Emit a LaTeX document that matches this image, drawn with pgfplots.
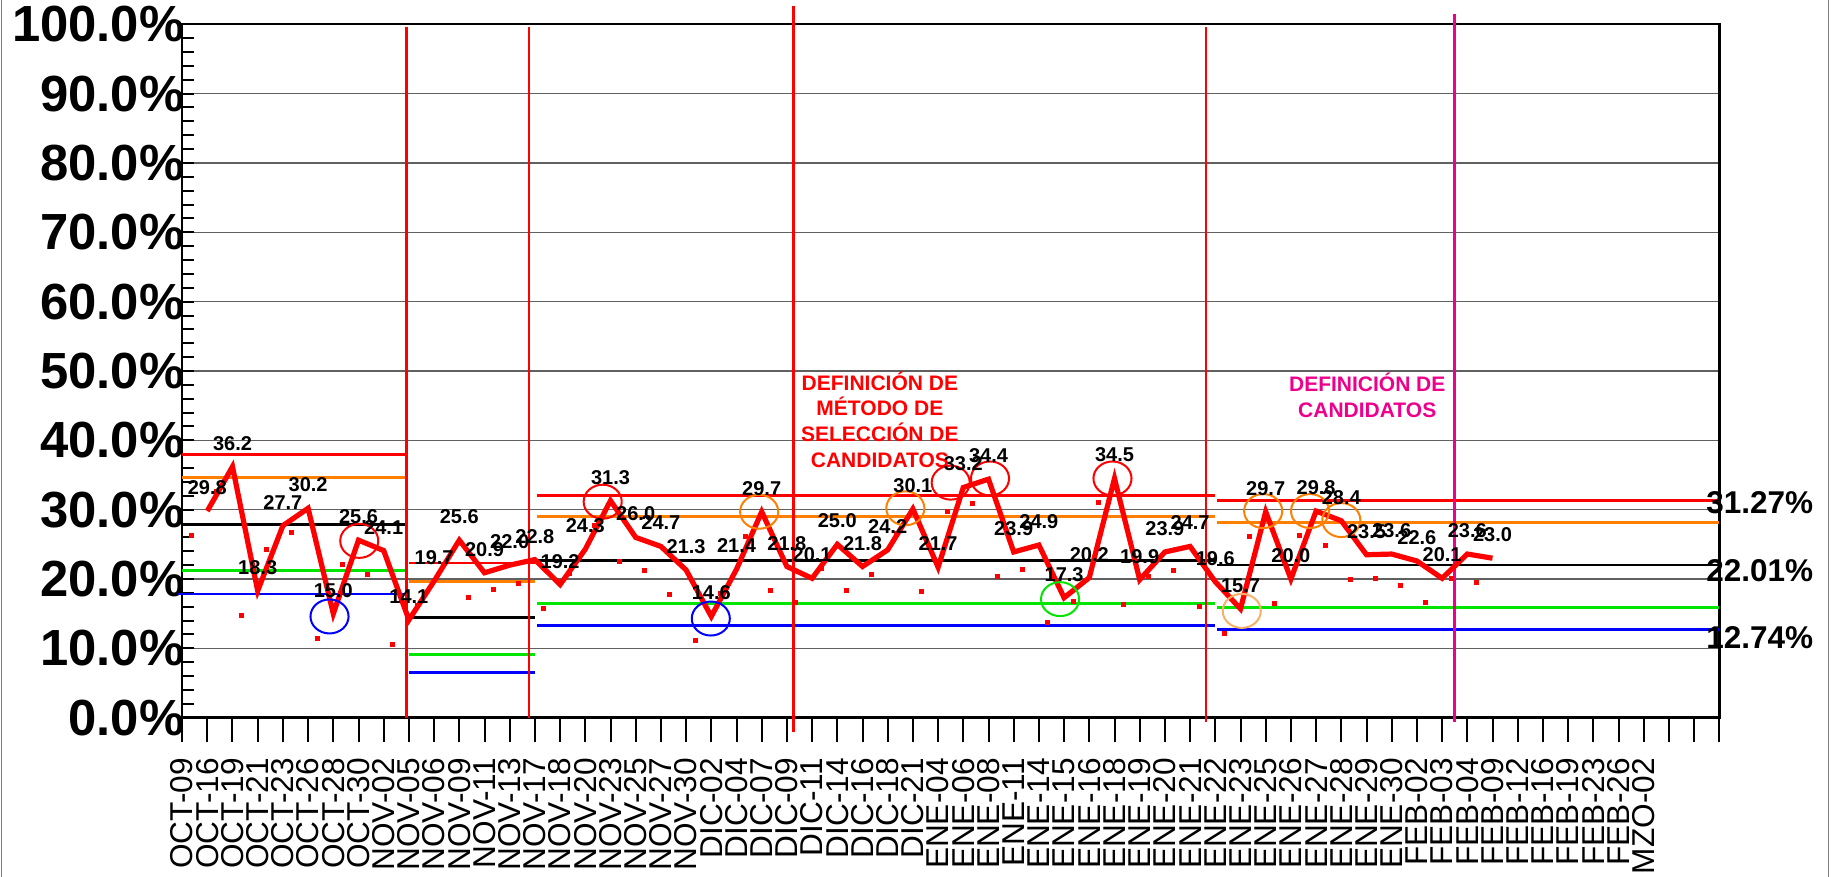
\documentclass[border=0pt]{standalone}
\usepackage{fontspec}
\setmainfont{Liberation Sans}
\usepackage{pgfplots}
\pgfplotsset{compat=1.18}
\definecolor{ctrlorange}{RGB}{255,128,0}
\definecolor{ctrlgreen}{RGB}{0,230,0}
\definecolor{peach}{RGB}{248,176,104}

\begin{document}
\begin{tikzpicture}
\begin{axis}[
    at={(91.05pt,79.65pt)}, anchor=south west,
    scale only axis, width=768.6pt, height=346.7pt,
    xmin=0, xmax=61, ymin=0, ymax=100,
    clip=false,
    axis line style={black, line width=1.2pt},
    tick style={black, line width=1pt},
    major tick length=6pt, minor tick length=6pt,
    xtick pos=left, ytick pos=left,
    ytick={0,10,...,100},
    minor ytick={2,4,...,98},
    yticklabels={0.0\%,10.0\%,20.0\%,30.0\%,40.0\%,50.0\%,60.0\%,70.0\%,80.0\%,90.0\%,100.0\%},
    yticklabel style={anchor=east, inner sep=0pt, xshift=1.3pt,
        font=\bfseries\fontsize{25.4}{26}\selectfont},
    ymajorgrids,
    major grid style={gray!75!black, line width=0.7pt},
    xtick=\empty,
    extra x ticks={0,1,...,61},
    extra x tick labels={OCT-09,OCT-16,OCT-19,OCT-21,OCT-23,OCT-26,OCT-28,OCT-30,
        NOV-02,NOV-05,NOV-06,NOV-09,NOV-11,NOV-13,NOV-17,NOV-18,NOV-20,NOV-23,NOV-25,NOV-27,NOV-30,
        DIC-02,DIC-04,DIC-07\hspace{5pt},DIC-09,DIC-11,DIC-14,DIC-16,DIC-18,DIC-21,
        ENE-04,ENE-06,ENE-08,ENE-11,ENE-14,ENE-15,ENE-16,ENE-18,ENE-19,ENE-20,ENE-21,ENE-22,
        ENE-23,ENE-25,ENE-26,ENE-27,ENE-28,ENE-29,ENE-30,
        FEB-02,FEB-03,FEB-04,FEB-09,FEB-12,FEB-16,FEB-19,FEB-23,FEB-26,
        MZO-02,{},{},{}},
    extra x tick style={tick align=outside, major tick length=12pt, grid=none},
    xticklabel style={rotate=90, anchor=east, inner sep=0pt,
        font=\fontsize{15.8}{16}\selectfont},
    xticklabel shift=8.1pt,
]

% control limits, one block per period
\addplot[red, line width=1.4pt] coordinates {(0,37.95) (8.97,37.95)};
\addplot[ctrlorange, line width=1.4pt] coordinates {(0,34.6) (8.97,34.6)};
\addplot[black, line width=1.4pt] coordinates {(0,27.9) (8.97,27.9)};
\addplot[ctrlgreen, line width=1.4pt] coordinates {(0,21.2) (8.97,21.2)};
\addplot[blue, line width=1.4pt] coordinates {(-0.15,17.85) (8.82,17.85)};

\addplot[red, line width=1.4pt] coordinates {(9.0,22.3) (14.0,22.3)};
\addplot[ctrlorange, line width=1.4pt] coordinates {(9.0,19.67) (14.0,19.67)};
\addplot[black, line width=1.4pt] coordinates {(9.0,14.4) (14.0,14.4)};
\addplot[ctrlgreen, line width=1.4pt] coordinates {(9.0,9.1) (14.0,9.1)};
\addplot[blue, line width=1.4pt] coordinates {(9.0,6.5) (14.0,6.5)};

\addplot[red, line width=1.4pt] coordinates {(14.07,32.1) (41.0,32.1)};
\addplot[ctrlorange, line width=1.4pt] coordinates {(14.07,29.0) (41.0,29.0)};
\addplot[black, line width=1.4pt] coordinates {(14.07,22.7) (41.0,22.7)};
\addplot[ctrlgreen, line width=1.4pt] coordinates {(14.07,16.45) (41.0,16.45)};
\addplot[blue, line width=1.4pt] coordinates {(14.07,13.3) (41.0,13.3)};

\addplot[red, line width=1.4pt] coordinates {(41.06,31.27) (61,31.27)};
\addplot[ctrlorange, line width=1.4pt] coordinates {(41.06,28.18) (61,28.18)};
\addplot[black, line width=1.4pt] coordinates {(41.06,22.01) (61,22.01)};
\addplot[ctrlgreen, line width=1.4pt] coordinates {(41.06,15.84) (61,15.84)};
\addplot[blue, line width=1.4pt] coordinates {(41.06,12.74) (61,12.74)};

% period separators
\addplot[red, line width=1.3pt] coordinates {(8.91,0) (8.91,99.6)};
\addplot[red, line width=1.3pt] coordinates {(13.77,0) (13.77,99.6)};
\addplot[red, line width=1.3pt] coordinates {(24.25,-2.0) (24.25,102.7)};
\addplot[red, line width=1.3pt] coordinates {(40.63,-0.6) (40.63,99.6)};
\addplot[magenta, line width=1.3pt] coordinates {(50.5,-0.6) (50.5,101.5)};

% small offset squares
\addplot[only marks, mark=square*, mark size=1pt, red] coordinates {
(0.35,26.3) (1.35,32.7) (2.35,14.8) (3.35,24.2) (4.35,26.7) (5.35,11.5)
(6.35,22.1) (7.35,20.6) (8.35,10.6) (9.35,16.2) (10.35,22.1) (11.35,17.4)
(12.35,18.5) (13.35,19.3) (14.35,15.7) (15.35,20.8) (16.35,27.8) (17.35,22.5)
(18.35,21.2) (19.35,17.8) (20.35,11.1) (21.35,17.9) (22.35,26.2) (23.35,18.3)
(24.35,16.6) (25.35,21.5) (26.35,18.3) (27.35,20.7) (28.35,26.6) (29.35,18.2)
(30.35,29.7) (31.35,30.9) (32.35,20.4) (33.35,21.4) (34.35,13.8) (35.35,16.7)
(36.35,31.0) (37.35,16.4) (38.35,20.4) (39.35,21.2) (40.35,16.1) (41.35,12.2)
(42.35,26.2) (43.35,16.5) (44.35,26.3) (45.35,24.9) (46.35,20.0) (47.35,20.1)
(48.35,19.1) (49.35,16.6) (50.35,20.1) (51.35,19.5)
};

% main series
\addplot[red, line width=2.6pt] table {
x y
1 29.8
2 36.2
3 18.3
4 27.7
5 30.2
6 15.0
7 25.6
8 24.1
9 14.1
10 19.7
11 25.6
12 20.9
13 22.0
14 22.8
15 19.2
16 24.3
17 31.3
18 26.0
19 24.7
20 21.3
21 14.6
22 21.4
23 29.7
24 21.8
25 20.1
26 25.0
27 21.8
28 24.2
29 30.1
30 21.7
31 33.2
32 34.4
33 23.9
34 24.9
35 17.3
36 20.2
37 34.5
38 19.9
39 23.9
40 24.7
41 19.6
42 15.7
43 29.7
44 20.0
45 29.8
46 28.4
47 23.5
48 23.6
49 22.6
50 20.1
51 23.6
52 23.0
};

% highlighted points
\addplot[only marks, mark=o, mark size=8.5pt, blue, mark options={line width=1pt, xscale=1.12}]
    coordinates {(5.85,14.6) (20.98,14.3)};
\addplot[only marks, mark=o, mark size=8.5pt, red, mark options={line width=1pt, xscale=1.12}]
    coordinates {(7.03,25.5) (16.69,31.15) (30.5,33.9) (32.06,34.5) (36.92,34.5)};
\addplot[only marks, mark=o, mark size=8.5pt, ctrlorange, mark options={line width=1pt, xscale=1.12}]
    coordinates {(22.9,29.7) (28.7,30.2) (42.9,29.8) (44.76,29.8) (46.0,28.5)};
\addplot[only marks, mark=o, mark size=8.5pt, ctrlgreen, mark options={line width=1pt, xscale=1.12}]
    coordinates {(34.84,17.1)};
\addplot[only marks, mark=o, mark size=8.5pt, peach, mark options={line width=1pt, xscale=1.12}]
    coordinates {(42.05,15.4)};

% value labels
\addplot[draw=none, point meta=y,
    nodes near coords={\pgfmathprintnumber[fixed,fixed zerofill,precision=1,assume math mode=true]{\pgfplotspointmeta}},
    every node near coord/.append style={black, anchor=base, inner sep=0pt, yshift=8.25pt,
        font=\bfseries\fontsize{10}{12}\selectfont}] table {
x y
1 29.8
2 36.2
3 18.3
4 27.7
5 30.2
6 15.0
7 25.6
8 24.1
9 14.1
10 19.7
11 25.6
12 20.9
13 22.0
14 22.8
15 19.2
16 24.3
17 31.3
18 26.0
19 24.7
20 21.3
21 14.6
22 21.4
23 29.7
24 21.8
25 20.1
26 25.0
27 21.8
28 24.2
29 30.1
30 21.7
31 33.2
32 34.4
33 23.9
34 24.9
35 17.3
36 20.2
37 34.5
38 19.9
39 23.9
40 24.7
41 19.6
42 15.7
43 29.7
44 20.0
45 29.8
46 28.4
47 23.5
48 23.6
49 22.6
50 20.1
51 23.6
52 23.0
};

\begin{scope}[every node/.style={anchor=base, inner sep=0pt, font=\bfseries\fontsize{10.5}{12}\selectfont}]
    \node[text=red] at (axis cs:27.69,47.19) {DEFINICIÓN DE};
    \node[text=red] at (axis cs:27.69,43.58) {MÉTODO DE};
    \node[text=red] at (axis cs:27.69,39.83) {SELECCIÓN DE};
    \node[text=red] at (axis cs:27.69,36.15) {CANDIDATOS};
    \node[text=magenta] at (axis cs:47.03,47.04) {DEFINICIÓN DE};
    \node[text=magenta] at (axis cs:47.03,43.32) {CANDIDATOS};
\end{scope}

\begin{scope}[every node/.style={anchor=base west, inner sep=0pt, font=\bfseries\fontsize{15.75}{17}\selectfont}]
    \node at (axis cs:60.47,29.48) {31.27\%};
    \node at (axis cs:60.47,19.61) {22.01\%};
    \node at (axis cs:60.47,10.01) {12.74\%};
\end{scope}
\end{axis}

\draw[gray, line width=0.75pt] (0.75pt,0) -- (0.75pt,438.5pt);
\draw[gray, line width=0.75pt] (914.2pt,0) -- (914.2pt,438.5pt);

\pgfresetboundingbox
\path[use as bounding box] (0,0) rectangle (916.5pt,438.5pt);
\end{tikzpicture}
\end{document}
